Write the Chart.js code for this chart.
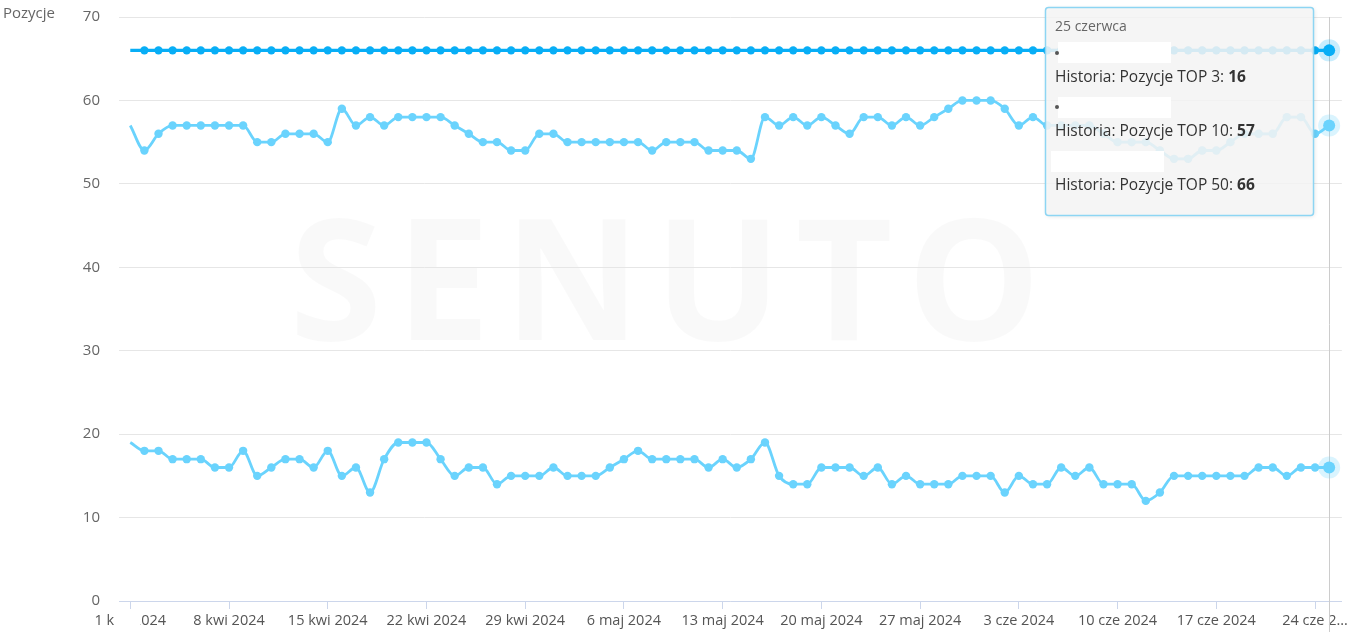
<!DOCTYPE html>
<html>
<head>
<meta charset="utf-8">
<script src="https://cdn.jsdelivr.net/npm/chart.js@4"></script>
<style>
  html, body { margin: 0; padding: 0; background: #ffffff; }
  #wrap { position: relative; width: 1351px; height: 638px; }
  canvas { display: block; }
</style>
</head>
<body>
<div id="wrap"><canvas id="c" width="1351" height="638"></canvas></div>
<script>
// ---------------- DATA ----------------
const startDay = '1 kwi 2024';
const dayCount = 86; // 1 Apr 2024 .. 25 Jun 2024
const tickDays = [0, 7, 14, 21, 28, 35, 42, 49, 56, 63, 70, 77, 84];
const tickLabels = ['1 kwi 2024', '8 kwi 2024', '15 kwi 2024', '22 kwi 2024', '29 kwi 2024',
  '6 maj 2024', '13 maj 2024', '20 maj 2024', '27 maj 2024', '3 cze 2024',
  '10 cze 2024', '17 cze 2024', '24 cze 2…'];
const seriesNames = ['Historia: Pozycje TOP 3', 'Historia: Pozycje TOP 10', 'Historia: Pozycje TOP 50'];
const top3 = [19,18,18,17,17,17,16,16,18,15,16,17,17,16,18,15,16,13,17,19,19,19,
  17,15,16,16,14,15,15,15,16,15,15,15,16,17,18,17,17,17,17,16,17,
  16,17,19,15,14,14,16,16,16,15,16,14,15,14,14,14,15,15,15,13,15,14,
  14,16,15,16,14,14,14,12,13,15,15,15,15,15,15,16,16,15,16,16,16];
const top10 = [57,54,56,57,57,57,57,57,57,55,55,56,56,56,55,59,57,58,57,58,58,58,
  58,57,56,55,55,54,54,56,56,55,55,55,55,55,55,54,55,55,55,54,54,
  54,53,58,57,58,57,58,57,56,58,58,57,58,57,58,59,60,60,60,59,57,58,
  57,57,57,57,56,55,55,55,54,53,53,54,54,55,56,56,56,58,58,56,57];
const top50 = [66,66,66,66,66,66,66,66,66,66,66,66,66,66,66,66,66,66,66,66,66,66,
  66,66,66,66,66,66,66,66,66,66,66,66,66,66,66,66,66,66,66,66,66,
  66,66,66,66,66,66,66,66,66,66,66,66,66,66,66,66,66,66,66,66,66,66,
  66,66,66,66,66,66,66,66,66,66,66,66,66,66,66,66,66,66,66,66,66];
const yTicks = [0, 10, 20, 30, 40, 50, 60, 70];
const tooltipTitle = '25 czerwca';
const yTitle = 'Pozycje';
const watermark = 'SENUTO';

// ---------------- STYLE ----------------
const FONT = '"Open Sans", "Noto Sans", sans-serif';
const lightBlue = '#6ad3fd';
const darkBlue = '#08aef6';
const hoverIndex = dayCount - 1;

const labels = [];
for (let i = 0; i < dayCount; i++) labels.push(i);

function radiusFn(ctx) {
  if (ctx.dataIndex === 0) return 0;
  if (ctx.dataIndex === hoverIndex) return 6;
  return 4.2;
}

function makeDs(label, data, color, width) {
  return {
    label: label,
    data: data,
    borderColor: color,
    backgroundColor: color,
    pointBackgroundColor: color,
    pointBorderWidth: 0,
    pointRadius: radiusFn,
    pointHoverRadius: radiusFn,
    borderWidth: width,
    cubicInterpolationMode: 'monotone',
    fill: false
  };
}

const decorPlugin = {
  id: 'decor',
  beforeDraw(chart) {
    const c = chart.ctx;
    c.save();
    c.fillStyle = 'rgba(0,0,0,0.022)';
    c.font = '700 168px ' + FONT;
    c.textAlign = 'center';
    c.textBaseline = 'middle';
    if ('letterSpacing' in c) c.letterSpacing = '14px';
    c.fillText(watermark, 672, 292);
    c.restore();
  },
  beforeDatasetsDraw(chart) {
    const c = chart.ctx;
    const xs = chart.scales.x;
    const x = Math.round(xs.getPixelForValue(hoverIndex)) + 0.5;
    c.save();
    c.strokeStyle = '#cccccc';
    c.lineWidth = 1;
    c.beginPath();
    c.moveTo(x, chart.chartArea.top);
    c.lineTo(x, 632);
    c.stroke();
    chart.data.datasets.forEach((ds, i) => {
      const pt = chart.getDatasetMeta(i).data[hoverIndex];
      c.beginPath();
      c.fillStyle = i === 2 ? 'rgba(8,174,246,0.22)' : 'rgba(106,211,253,0.25)';
      c.arc(pt.x, pt.y, 11, 0, Math.PI * 2);
      c.fill();
    });
    c.restore();
  },
  afterDraw(chart) {
    const c = chart.ctx;
    c.save();
    c.fillStyle = '#666666';
    c.font = '15px ' + FONT;
    c.textAlign = 'left';
    c.textBaseline = 'middle';
    c.fillText(yTitle, 3, 14);
    // partial cover on the first x label
    c.fillStyle = '#ffffff';
    c.fillRect(114, 610, 26, 24);
    c.strokeStyle = '#ccd6eb';
    c.beginPath();
    c.moveTo(130.5, 601); c.lineTo(130.5, 609); c.stroke();

    // tooltip
    const bx = 1045.5, by = 7.5, bw = 268, bh = 208;
    c.shadowColor = 'rgba(0,0,0,0.12)';
    c.shadowBlur = 4;
    c.shadowOffsetX = 1;
    c.shadowOffsetY = 1;
    c.fillStyle = 'rgba(247,247,247,0.86)';
    c.beginPath();
    c.roundRect(bx, by, bw, bh, 3);
    c.fill();
    c.shadowColor = 'transparent';
    c.strokeStyle = '#8dd5f3';
    c.lineWidth = 1.5;
    c.stroke();

    c.fillStyle = '#666666';
    c.font = '14px ' + FONT;
    c.textBaseline = 'middle';
    c.fillText(tooltipTitle, 1055, 27);

    c.fillStyle = '#ffffff';
    c.fillRect(1058, 42, 113, 21);
    c.fillRect(1058, 97, 113, 21);
    c.fillRect(1051, 151, 113, 21);
    c.fillStyle = '#555555';
    c.beginPath(); c.arc(1057, 53, 2, 0, Math.PI * 2); c.fill();
    c.beginPath(); c.arc(1057, 107, 2, 0, Math.PI * 2); c.fill();

    const vals = [top3[hoverIndex], top10[hoverIndex], top50[hoverIndex]];
    const ys = [78, 132, 186];
    for (let i = 0; i < 3; i++) {
      const txt = seriesNames[i] + ': ';
      c.font = '15.5px ' + FONT;
      c.fillStyle = '#333333';
      c.fillText(txt, 1055, ys[i]);
      const w = c.measureText(txt).width;
      c.font = '700 15.5px ' + FONT;
      c.fillText(String(vals[i]), 1055 + w, ys[i]);
    }
    c.restore();
  }
};

new Chart(document.getElementById('c'), {
  type: 'line',
  data: {
    labels: labels,
    datasets: [
      makeDs(seriesNames[0], top3, lightBlue, 2.8),
      makeDs(seriesNames[1], top10, lightBlue, 2.8),
      makeDs(seriesNames[2], top50, darkBlue, 3.2)
    ]
  },
  options: {
    responsive: false,
    animation: false,
    events: [],
    layout: { padding: { top: 17, right: 8, left: 0, bottom: 0 } },
    plugins: { legend: { display: false }, tooltip: { enabled: false }, title: { display: false } },
    scales: {
      x: {
        type: 'linear',
        min: -0.8,
        max: 85.9,
        afterBuildTicks(scale) { scale.ticks = tickDays.map(v => ({ value: v })); },
        afterFit(scale) { scale.height = 37; },
        ticks: {
          autoSkip: false,
          maxRotation: 0,
          padding: 3,
          color: '#555555',
          font: { family: FONT, size: 14.5 },
          callback(value) {
            const k = tickDays.indexOf(value);
            return k >= 0 ? tickLabels[k] : '';
          }
        },
        grid: { drawOnChartArea: false, drawTicks: true, tickLength: 8, color: '#ccd6eb' },
        border: { display: true, color: '#ccd6eb', width: 1 }
      },
      y: {
        min: 0,
        max: 70,
        afterBuildTicks(scale) { scale.ticks = yTicks.map(v => ({ value: v })); },
        afterFit(scale) { scale.width = 119; },
        ticks: {
          padding: 0,
          color: '#666666',
          font: { family: FONT, size: 15 }
        },
        grid: { color: '#e6e6e6', drawTicks: true, tickLength: 19, tickColor: 'rgba(0,0,0,0)', lineWidth: 1 },
        border: { display: false }
      }
    }
  },
  plugins: [decorPlugin]
});
</script>
</body>
</html>
